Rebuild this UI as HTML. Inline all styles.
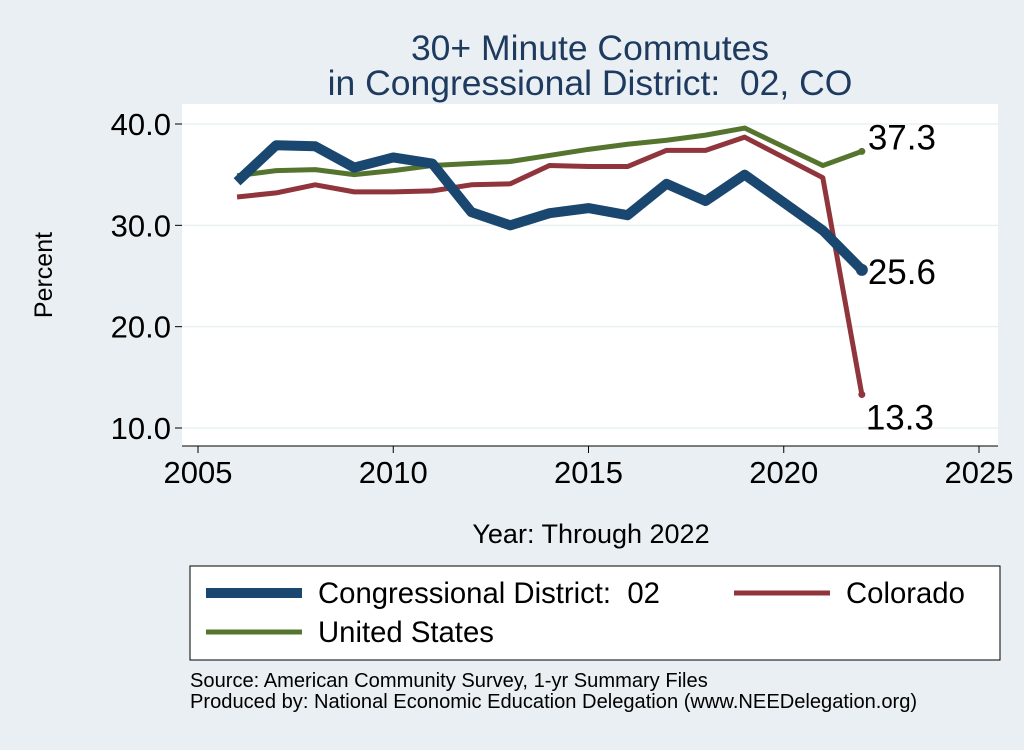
<!DOCTYPE html>
<html><head><meta charset="utf-8">
<style>
body{margin:0;background:#e9eff2;}
svg text{font-family:"Liberation Sans",sans-serif;white-space:pre;}
</style></head>
<body>
<svg id="chart" width="1024" height="745" viewBox="0 0 1024 745" xmlns="http://www.w3.org/2000/svg">
<rect x="0" y="0" width="1024" height="745" fill="#e9eff2"/>
<rect x="182" y="104" width="816" height="342" fill="#ffffff"/>
<text x="590" y="60" font-size="35.5" fill="#1e3a5f" text-anchor="middle">30+ Minute Commutes</text>
<text x="590" y="95" font-size="35.5" fill="#1e3a5f" text-anchor="middle">in Congressional District:  02, CO</text>
<g id="grid"></g>
<g id="axes"></g>
<g id="series"></g>
<text x="52" y="275" font-size="25" fill="#000" text-anchor="middle" transform="rotate(-90 52 275)">Percent</text>
<text x="591" y="543" font-size="27" fill="#000" text-anchor="middle">Year: Through 2022</text>
<g>
<rect x="190" y="566" width="810" height="94" fill="#fff" stroke="#000" stroke-width="1"/>
<line x1="206" y1="593" x2="302" y2="593" stroke="#1a476f" stroke-width="10"/>
<text x="318" y="603" font-size="29.3">Congressional District:  02</text>
<line x1="734" y1="593" x2="830" y2="593" stroke="#90353b" stroke-width="5"/>
<text x="846" y="603" font-size="29.3">Colorado</text>
<line x1="206" y1="632" x2="302" y2="632" stroke="#55752f" stroke-width="5"/>
<text x="318" y="642" font-size="29.3">United States</text>
</g>
<text x="190" y="687" font-size="20.1">Source: American Community Survey, 1-yr Summary Files</text>
<text x="190" y="708" font-size="20.1">Produced by: National Economic Education Delegation (www.NEEDelegation.org)</text>
</svg>
<script>
const years=[2006,2007,2008,2009,2010,2011,2012,2013,2014,2015,2016,2017,2018,2019,2021,2022];
const cd02=[34.3,37.9,37.8,35.7,36.7,36.1,31.3,30.0,31.2,31.7,31.0,34.1,32.4,35.0,29.5,25.6];
const colorado=[32.8,33.2,34.0,33.3,33.3,33.4,34.0,34.1,35.9,35.8,35.8,37.4,37.4,38.7,34.7,13.3];
const us=[34.9,35.4,35.5,35.0,35.4,35.9,36.1,36.3,36.9,37.5,38.0,38.4,38.9,39.6,35.9,37.3];
const xTicks=[2005,2010,2015,2020,2025];
const yTicks=[10,20,30,40];
const yTickLabels=["10.0","20.0","30.0","40.0"];
const NS="http://www.w3.org/2000/svg";
function xs(v){return 198+(v-2005)*(979-198)/20;}
function ys(v){return 428-(v-10)*(428-124)/30;}
function mk(tag,attrs,parent){const e=document.createElementNS(NS,tag);for(const k in attrs)e.setAttribute(k,attrs[k]);parent.appendChild(e);return e;}
const grid=document.getElementById('grid'),axes=document.getElementById('axes'),ser=document.getElementById('series');
yTicks.forEach((t,i)=>{
 const g=mk('line',{x1:182,x2:998,y1:ys(t),y2:ys(t),stroke:'#eaf0f2','stroke-width':1.5},grid);
 
 
 const tk=mk('line',{x1:175,x2:182,y1:ys(t),y2:ys(t),stroke:'#000'},axes);
 
 
 const tx=mk('text',{x:171,y:ys(t)+11,'font-size':31,'text-anchor':'end'},axes);
 tx.textContent=yTickLabels[i];
 
 
});
const xa=mk('line',{x1:182,x2:998,y1:446,y2:446,stroke:'#000'},axes);


xTicks.forEach(t=>{
 const tk=mk('line',{x1:xs(t),x2:xs(t),y1:446,y2:453,stroke:'#000'},axes);
 
 
 const tx=mk('text',{x:xs(t),y:483,'font-size':31,'text-anchor':'middle'},axes);
 tx.textContent=t;
 
 
});
function draw(vals,color,w,name,lx,ldy){
 const pts=years.map((y,i)=>xs(y)+','+ys(vals[i])).join(' ');
 const p=mk('polyline',{points:pts,fill:'none',stroke:color,'stroke-width':w,'stroke-linejoin':'round'},ser);
 
 
 const n=vals.length-1;
 const c=mk('circle',{cx:xs(years[n]),cy:ys(vals[n]),r:w/2+1,fill:color},ser);
 
 
 const t=mk('text',{x:xs(years[n])+lx,y:ys(vals[n])+ldy,'font-size':35},ser);
 t.textContent=vals[n].toFixed(1);
 
 
}
draw(us,'#55752f',5,'us',6,-2);
draw(colorado,'#90353b',5,'colorado',4,35);
draw(cd02,'#1a476f',10,'cd02',6,14);
</script>
</body></html>
